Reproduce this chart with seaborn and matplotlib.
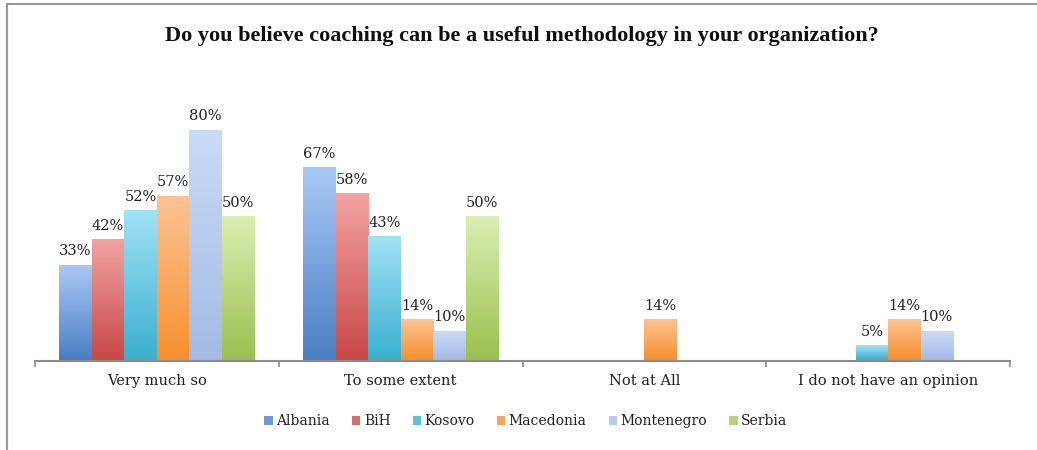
import numpy as np
import pandas as pd
import matplotlib
matplotlib.use("Agg")
import matplotlib.pyplot as plt
from matplotlib.colors import LinearSegmentedColormap
from matplotlib.lines import Line2D
from matplotlib.patches import Patch
import seaborn as sns

categories = ["Very much so", "To some extent", "Not at All", "I do not have an opinion"]
countries = ["Albania", "BiH", "Kosovo", "Macedonia", "Montenegro", "Serbia"]
albania = [33, 67, 0, 0]
bih = [42, 58, 0, 0]
kosovo = [52, 43, 0, 5]
macedonia = [57, 14, 14, 14]
montenegro = [80, 10, 0, 10]
serbia = [50, 50, 0, 0]
series = [albania, bih, kosovo, macedonia, montenegro, serbia]

title = "Do you believe coaching can be a useful methodology in your organization?"

bottom_colors = ["#4A7EC4", "#C84846", "#3BAFD0", "#F7902E", "#A4BBE4", "#9BC04F"]
top_colors = ["#AAC8F6", "#F2A3A2", "#A2E2F6", "#FCC394", "#C8DBF8", "#DAEEB2"]
mid_colors = ["#6F9AD6", "#D86E6C", "#5EC2DE", "#F9A560", "#B4CAEE", "#B5D57C"]

rows = []
for c, vals in zip(countries, series):
    for cat, v in zip(categories, vals):
        rows.append({"Category": cat, "Country": c, "Value": v})
df = pd.DataFrame(rows)

sns.set_theme(style="white")
plt.rcParams["font.family"] = ["DejaVu Serif"]

fig = plt.figure(figsize=(10.37, 4.5), dpi=100)
W, H = 1037, 450
base_y = 360.5
ymax = 90
ppu = 2.87
ax = fig.add_axes([35 / W, (H - base_y) / H, 975 / W, ymax * ppu / H])

sns.barplot(data=df, x="Category", y="Value", hue="Country", order=categories,
            hue_order=countries, palette=mid_colors, width=0.8, ax=ax,
            saturation=1, legend=False, linewidth=0)

grad = np.linspace(0, 1, 128).reshape(-1, 1)
for i, cont in enumerate(ax.containers):
    cmap = LinearSegmentedColormap.from_list(f"g{i}", [bottom_colors[i], top_colors[i]])
    for patch, v in zip(cont.patches, series[i]):
        x0 = patch.get_x()
        w = patch.get_width()
        h = patch.get_height()
        if h <= 0:
            continue
        patch.set_facecolor("none")
        ax.imshow(grad, extent=[x0, x0 + w, 0, h], aspect="auto", cmap=cmap,
                  origin="lower", zorder=2, interpolation="bilinear")
        ax.annotate(f"{v}%", (x0 + w / 2, h), xytext=(0, 7.5), textcoords="offset points",
                    ha="center", va="baseline", fontsize=10.5, color="#222222",
                    family="DejaVu Serif")

ax.set_xlim(-0.5, len(categories) - 0.5)
ax.set_ylim(0, ymax)
ax.set_xlabel("")
ax.set_ylabel("")
ax.set_yticks([])
for s in ["top", "right", "left"]:
    ax.spines[s].set_visible(False)
ax.spines["bottom"].set_color("#8C8C8C")
ax.spines["bottom"].set_linewidth(1.5)
ax.spines["bottom"].set_zorder(3)

ax.set_xticks(np.arange(-0.5, len(categories), 1.0))
ax.set_xticklabels([])
ax.tick_params(axis="x", which="major", direction="out", length=4, width=1.2,
               color="#8C8C8C", bottom=True)
ax.set_xticks(np.arange(len(categories)), minor=True)
ax.set_xticklabels(categories, minor=True, fontsize=10.5, color="#222222")
ax.tick_params(axis="x", which="minor", length=0, pad=10)

handles = [Patch(facecolor=mid_colors[i], edgecolor="none") for i in range(len(countries))]
fig.legend(handles, countries, loc="center", bbox_to_anchor=(526 / W, 1 - 421 / H),
           ncol=6, frameon=False, fontsize=10, handlelength=0.6, handleheight=0.6,
           handletextpad=0.25, columnspacing=1.6, labelcolor="#222222")

fig.text(522 / W, 1 - 36 / H, title, ha="center", va="center", fontsize=16,
         fontweight="bold", family="Liberation Serif", color="#111111")

fig.add_artist(Line2D([6.5 / W, 1], [1 - 4 / H, 1 - 4 / H], transform=fig.transFigure,
                      color="#999999", linewidth=1.5))
fig.add_artist(Line2D([6.5 / W, 6.5 / W], [0, 1 - 4 / H], transform=fig.transFigure,
                      color="#999999", linewidth=1.5))

fig.savefig("out.png", dpi=100, facecolor="white")
